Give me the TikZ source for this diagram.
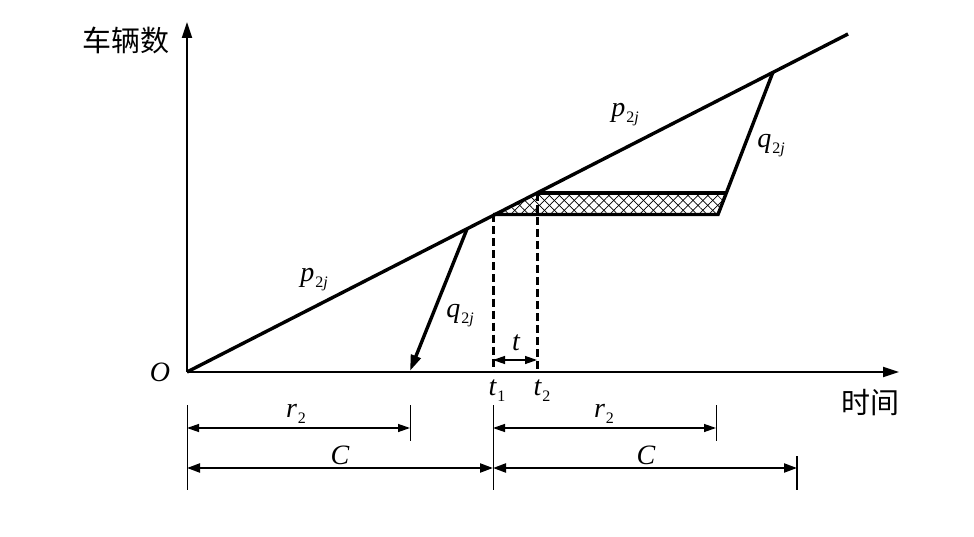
\documentclass[tikz,border=0pt]{standalone}
\usepackage{fontspec}
\setmainfont{Liberation Serif}
\newfontfamily\cjk{Noto Sans CJK SC}
\usetikzlibrary{arrows.meta,patterns.meta}
\tikzset{
  axisline/.style={line width=2.2pt,-{Triangle[length=16pt,width=10pt]}},
  heavy/.style={line width=3.4pt},
  dashline/.style={line width=3pt,dash pattern=on 8pt off 4pt},
  dimthin/.style={line width=1.3pt,{Triangle[length=12pt,width=8pt]}-{Triangle[length=12pt,width=8pt]}},
  dimthick/.style={line width=2.2pt,{Triangle[length=13pt,width=9pt]}-{Triangle[length=13pt,width=9pt]}},
  tick/.style={line width=1pt},
  lbl/.style={inner sep=0pt,font=\fontsize{28}{30}\selectfont\itshape},
  cjklbl/.style={inner sep=0pt,font=\fontsize{29}{31}\selectfont\cjk},
}
\newcommand{\sub}[1]{\kern1pt\raisebox{-6pt}{\fontsize{16}{17}\selectfont\upshape #1}}
\begin{document}
\begin{tikzpicture}[x=1pt,y=-1pt]
\useasboundingbox (0,0) rectangle (974,537);
% key points
\coordinate (O) at (187,372);
\coordinate (ytip) at (187,22);
\coordinate (xtip) at (899,372);
\coordinate (pend) at (848,34);
\coordinate (A) at (773,72);
\coordinate (B) at (726.3,193);
\coordinate (Br) at (718,214.5);
\coordinate (T1) at (493,214.5);
\coordinate (T2) at (537,193);
\coordinate (Q1) at (467,229);
\coordinate (Q1e) at (410,371);
\coordinate (t1b) at (493,372);
\coordinate (t2b) at (537,372);
% hatch
\fill[pattern={Lines[angle=45,distance=7pt,line width=0.7pt]}] (T1) -- (T2) -- (B) -- (Br) -- cycle;
\fill[pattern={Lines[angle=-45,distance=7pt,line width=0.7pt]}] (T1) -- (T2) -- (B) -- (Br) -- cycle;
% axes
\draw[axisline] (O) -- (ytip);
\draw[axisline] (O) -- (xtip);
% main lines
\draw[heavy] (O) -- (pend);
\draw[heavy,line join=miter] (A) -- (Br) -- (T1);
\draw[heavy] (T2) -- (B);
\draw[heavy,-{Triangle[length=16pt,width=10pt]}] (Q1) -- (Q1e);
% dashed
\draw[dashline] (T1) -- (t1b);
\draw[dashline] (T2) -- (t2b);
\coordinate (ta) at (493,360);
\coordinate (tb) at (537,360);
\draw[dimthin] (ta) -- (tb);
% labels
\node[cjklbl] (ylab) at (126,40) {车辆数};
\node[cjklbl] (xlab) at (870,403) {时间};
\node[lbl] (olab) at (160,372) {O};
\node[lbl] (p1) at (625,115) {p\sub{2\textit{j}}};
\node[lbl] (p2) at (314,280) {p\sub{2\textit{j}}};
\node[lbl] (q1) at (771,146) {q\sub{2\textit{j}}};
\node[lbl] (q2) at (460,316) {q\sub{2\textit{j}}};
\node[lbl] (tl) at (516,343) {t};
\node[lbl] (t1l) at (497,391) {t\sub{1}};
\node[lbl] (t2l) at (542,391) {t\sub{2}};
% dimension lines
\coordinate (d1a) at (187,405); \coordinate (d1b) at (187,490);
\coordinate (d2a) at (410,405); \coordinate (d2b) at (410,441);
\coordinate (d3a) at (493,405); \coordinate (d3b) at (493,490);
\coordinate (d4a) at (716,405); \coordinate (d4b) at (716,441);
\coordinate (d5a) at (797,456); \coordinate (d5b) at (797,490);
\draw[tick] (d1a) -- (d1b);
\draw[tick] (d2a) -- (d2b);
\draw[tick] (d3a) -- (d3b);
\draw[tick] (d4a) -- (d4b);
\draw[line width=2.2pt] (d5a) -- (d5b);
\coordinate (r1a) at (187,428); \coordinate (r1b) at (410,428);
\coordinate (r2a) at (493,428); \coordinate (r2b) at (716,428);
\coordinate (c1a) at (187,468); \coordinate (c1b) at (493,468);
\coordinate (c2a) at (493,468); \coordinate (c2b) at (797,468);
\draw[dimthin] (r1a) -- (r1b);
\draw[dimthin] (r2a) -- (r2b);
\draw[dimthick] (c1a) -- (c1b);
\draw[dimthick] (c2a) -- (c2b);
\node[lbl] (r1l) at (296,414) {r\sub{2}};
\node[lbl] (r2l) at (604,414) {r\sub{2}};
\node[lbl] (c1l) at (340,455) {C};
\node[lbl] (c2l) at (646,455) {C};
\end{tikzpicture}
\end{document}
